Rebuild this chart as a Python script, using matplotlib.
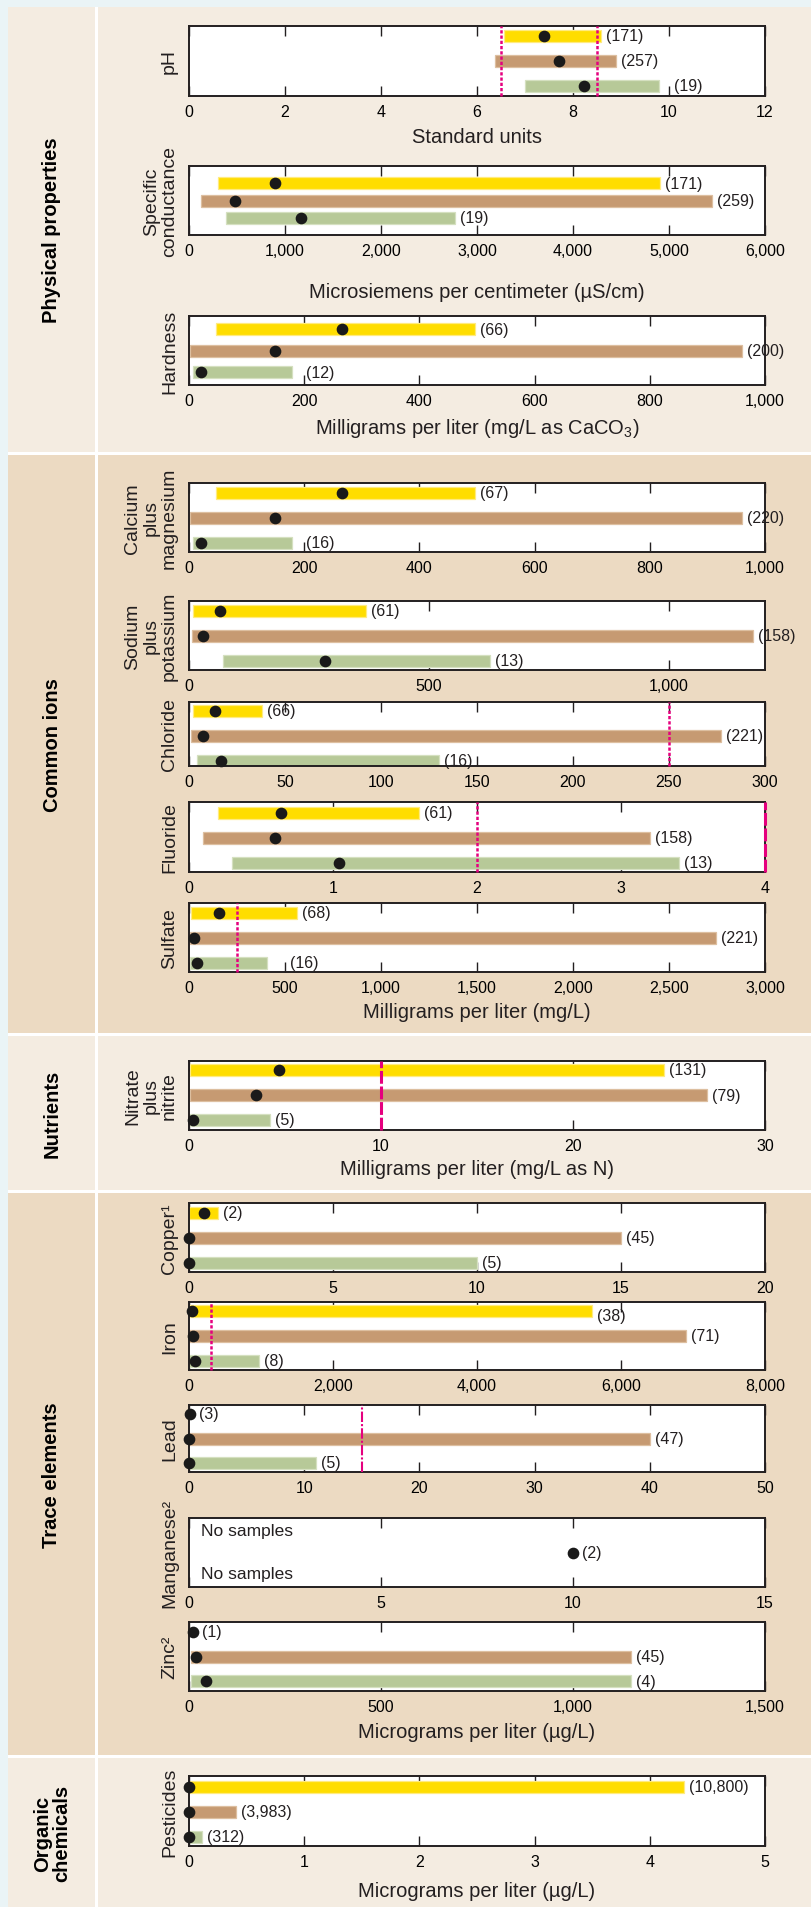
import matplotlib.pyplot as plt
from matplotlib import font_manager as fm
from matplotlib.patches import Rectangle
from matplotlib.ticker import FuncFormatter

# numbers and axis titles are set in a narrow grotesque in the original;
# use Liberation Sans Narrow when present, else regular Liberation Sans
have_narrow = any(f.name == 'Liberation Sans Narrow' for f in fm.fontManager.ttflist)
NUM_FONT = 'Liberation Sans Narrow' if have_narrow else 'Liberation Sans'
NUM_SCALE = 1.2 if have_narrow else 1.0

plt.rcParams['font.family'] = ['Liberation Sans', 'DejaVu Sans']
plt.rcParams['mathtext.fontset'] = 'custom'
plt.rcParams['mathtext.rm'] = NUM_FONT

# each panel has three rows: yellow, tan, green
colors = ['#FFDD00', '#C69A72', '#B7C998']
edges = ['#FFEB80', '#DDBFA0', '#D5E0C0']
pink = '#E5007E'

# ---- data (min, max, median, sample counts) ----
ph_lo = [6.57, 6.38, 7.0]
ph_hi = [8.59, 8.90, 9.80]
ph_med = [7.39, 7.70, 8.23]
ph_n = ['(171)', '(257)', '(19)']

sc_lo = [300, 130, 390]
sc_hi = [4910, 5450, 2770]
sc_med = [900, 475, 1170]
sc_n = ['(171)', '(259)', '(19)']

hard_lo = [47, 2, 7]
hard_hi = [496, 960, 179]
hard_med = [265, 150, 21]
hard_n = ['(66)', '(200)', '(12)']

camg_lo = [47, 2, 7]
camg_hi = [496, 960, 179]
camg_med = [265, 150, 21]
camg_n = ['(67)', '(220)', '(16)']

nak_lo = [9, 7, 70]
nak_hi = [368, 1175, 627]
nak_med = [65, 29, 283]
nak_n = ['(61)', '(158)', '(13)']

cl_lo = [1.9, 1.3, 4.0]
cl_hi = [38, 277, 130]
cl_med = [13.5, 7.3, 16.7]
cl_n = ['(66)', '(221)', '(16)']

f_lo = [0.20, 0.10, 0.30]
f_hi = [1.60, 3.20, 3.40]
f_med = [0.64, 0.60, 1.04]
f_n = ['(61)', '(158)', '(13)']

so4_lo = [8, 5, 5]
so4_hi = [560, 2747, 404]
so4_med = [156, 24, 40]
so4_n = ['(68)', '(221)', '(16)']

no3_lo = [0.05, 0.05, 0.05]
no3_hi = [24.75, 26.96, 4.2]
no3_med = [4.7, 3.47, 0.2]
no3_n = ['(131)', '(79)', '(5)']

cu_lo = [0, 0, 0]
cu_hi = [1.0, 15, 10]
cu_med = [0.52, 0, 0]
cu_n = ['(2)', '(45)', '(5)']

fe_lo = [0, 0, 0]
fe_hi = [5600, 6900, 970]
fe_med = [43, 50, 80]
fe_n = ['(38)', '(71)', '(8)']

pb_lo = [None, 0, 0]
pb_hi = [None, 40, 11]
pb_med = [0.05, 0, 0]
pb_n = ['(3)', '(47)', '(5)']

mn_lo = [None, None, None]
mn_hi = [None, None, None]
mn_med = [None, 10.0, None]
mn_n = ['', '(2)', '']
mn_note = ['No samples', None, 'No samples']

zn_lo = [None, 5, 5]
zn_hi = [None, 1150, 1150]
zn_med = [10, 19, 44]
zn_n = ['(1)', '(45)', '(4)']

pest_lo = [0.01, 0.01, 0.01]
pest_hi = [4.30, 0.41, 0.11]
pest_med = [0, 0, 0]
pest_n = ['(10,800)', '(3,983)', '(312)']

panels = [
    dict(key='ph', ylabel='pH', lo=ph_lo, hi=ph_hi, med=ph_med, n=ph_n,
         xmax=12, ticks=[0, 2, 4, 6, 8, 10, 12], lines=[(6.5, 'fine'), (8.5, 'fine')],
         xlabel='Standard units'),
    dict(key='sc', ylabel='Specific\nconductance', lo=sc_lo, hi=sc_hi, med=sc_med, n=sc_n,
         xmax=6000, ticks=[0, 1000, 2000, 3000, 4000, 5000, 6000], lines=[],
         xlabel='Microsiemens per centimeter (µS/cm)'),
    dict(key='hard', ylabel='Hardness', lo=hard_lo, hi=hard_hi, med=hard_med, n=hard_n,
         xmax=1000, ticks=[0, 200, 400, 600, 800, 1000], lines=[],
         xlabel='Milligrams per liter (mg/L as CaCO$_3$)'),
    dict(key='camg', ylabel='Calcium\nplus\nmagnesium', lo=camg_lo, hi=camg_hi, med=camg_med,
         n=camg_n, xmax=1000, ticks=[0, 200, 400, 600, 800, 1000], lines=[], xlabel=None),
    dict(key='nak', ylabel='Sodium\nplus\npotassium', lo=nak_lo, hi=nak_hi, med=nak_med, n=nak_n,
         xmax=1200, ticks=[0, 500, 1000], lines=[], xlabel=None),
    dict(key='cl', ylabel='Chloride', lo=cl_lo, hi=cl_hi, med=cl_med, n=cl_n,
         xmax=300, ticks=[0, 50, 100, 150, 200, 250, 300], lines=[(250, 'fine')], xlabel=None),
    dict(key='f', ylabel='Fluoride', lo=f_lo, hi=f_hi, med=f_med, n=f_n,
         xmax=4, ticks=[0, 1, 2, 3, 4], lines=[(2, 'fine'), (4, 'long')], xlabel=None),
    dict(key='so4', ylabel='Sulfate', lo=so4_lo, hi=so4_hi, med=so4_med, n=so4_n,
         xmax=3000, ticks=[0, 500, 1000, 1500, 2000, 2500, 3000], lines=[(250, 'fine')],
         xlabel='Milligrams per liter (mg/L)'),
    dict(key='no3', ylabel='Nitrate\nplus\nnitrite', lo=no3_lo, hi=no3_hi, med=no3_med, n=no3_n,
         xmax=30, ticks=[0, 10, 20, 30], lines=[(10, 'long')],
         xlabel='Milligrams per liter (mg/L as N)'),
    dict(key='cu', ylabel='Copper¹', lo=cu_lo, hi=cu_hi, med=cu_med, n=cu_n,
         xmax=20, ticks=[0, 5, 10, 15, 20], lines=[], xlabel=None),
    dict(key='fe', ylabel='Iron', lo=fe_lo, hi=fe_hi, med=fe_med, n=fe_n,
         xmax=8000, ticks=[0, 2000, 4000, 6000, 8000], lines=[(300, 'fine')], xlabel=None),
    dict(key='pb', ylabel='Lead', lo=pb_lo, hi=pb_hi, med=pb_med, n=pb_n,
         xmax=50, ticks=[0, 10, 20, 30, 40, 50], lines=[(15, 'dashdot')], xlabel=None),
    dict(key='mn', ylabel='Manganese²', lo=mn_lo, hi=mn_hi, med=mn_med, n=mn_n,
         xmax=15, ticks=[0, 5, 10, 15], lines=[], xlabel=None, note=mn_note),
    dict(key='zn', ylabel='Zinc²', lo=zn_lo, hi=zn_hi, med=zn_med, n=zn_n,
         xmax=1500, ticks=[0, 500, 1000, 1500], lines=[],
         xlabel='Micrograms per liter (µg/L)'),
    dict(key='pest', ylabel='Pesticides', lo=pest_lo, hi=pest_hi, med=pest_med, n=pest_n,
         xmax=5, ticks=[0, 1, 2, 3, 4, 5], lines=[],
         xlabel='Micrograms per liter (µg/L)'),
]

sections = ['Physical properties', 'Common ions', 'Nutrients', 'Trace elements',
            'Organic\nchemicals']

# ---- layout, in pixels of the 811 x 1908 figure ----
W, H = 811, 1908
AX_L, AX_R = 189, 765
# key: (top, bottom, first row offset, row spacing, xlabel offset)
layout = {
    'ph': (27, 97, 10, 25, 40),
    'sc': (167, 236, 17, 17.5, 56),
    'hard': (317, 386, 13, 21.7, 42),
    'camg': (484, 553, 10, 25, 0),
    'nak': (602, 671, 10, 25, 0),
    'cl': (703, 767, 9, 25, 0),
    'f': (803, 873, 10.5, 25, 0),
    'so4': (904, 973, 10, 25, 40),
    'no3': (1062, 1131, 9, 25, 39),
    'cu': (1204, 1273, 9.5, 25, 0),
    'fe': (1303, 1371, 9.3, 24.7, 0),
    'pb': (1406, 1473, 9, 24.5, 0),
    'mn': (1519, 1588, 13, 21.5, 0),
    'zn': (1623, 1692, 9.7, 24.8, 41),
    'pest': (1777, 1847, 10.5, 25, 45),
}
section_px = [(8, 453), (456, 1034), (1037, 1191), (1194, 1756), (1759, 1908)]
section_bg = ['#F4ECE1', '#ECDAC2', '#F4ECE1', '#ECDAC2', '#F4ECE1']
# gap (px) between bar end and count label; wider where a tick is in the way
label_gap = {('ph', 2): 15, ('hard', 2): 14, ('camg', 2): 14, ('so4', 2): 23}
label_drop = {('fe', 0): 4}
line_styles = {'fine': ((0, (1.3, 0.8)), 1.8),
               'long': ((0, (4.2, 0.9)), 2.2),
               'dashdot': ((0, (5, 1, 1, 1)), 1.5)}
BAR_PX = 12

fmt = FuncFormatter(lambda v, p: f'{v:,.0f}')

fig = plt.figure(figsize=(W / 100, H / 100), dpi=100, facecolor='#EAF4F6')

# white frame behind the section panels (gives the white dividers)
fig.patches.append(Rectangle((8 / W, 0), (W - 8) / W, 1 - 8 / H, transform=fig.transFigure,
                             fc='white', ec='none', zorder=-3))
for (top, bot), bg, name in zip(section_px, section_bg, sections):
    fig.patches.append(Rectangle((8 / W, 1 - bot / H), 87 / W, (bot - top) / H,
                                 transform=fig.transFigure, fc=bg, ec='none', zorder=-2))
    fig.patches.append(Rectangle((98 / W, 1 - bot / H), (W - 98) / W, (bot - top) / H,
                                 transform=fig.transFigure, fc=bg, ec='none', zorder=-2))
    fig.text(52 / W, 1 - (top + bot) / 2 / H, name, rotation=90, ha='center', va='center',
             fontweight='bold', fontsize=14.5, linespacing=1.0)

for p in panels:
    top, bot, off, sp, xl_off = layout[p['key']]
    hpx = bot - top
    ax = fig.add_axes([AX_L / W, 1 - bot / H, (AX_R - AX_L) / W, hpx / H])
    ax.set_facecolor('white')
    ax.set_xlim(0, p['xmax'])
    ax.set_ylim((hpx - off) / sp, -off / sp)
    ax.set_xticks(p['ticks'])
    ax.xaxis.set_major_formatter(fmt)
    ax.set_yticks([])
    ax.tick_params(axis='x', direction='in', top=True, bottom=True, length=7,
                   width=1.0, color='#231F20', labelsize=11.5 * NUM_SCALE, pad=6)
    for lab in ax.get_xticklabels():
        lab.set_family(NUM_FONT)
    for s in ax.spines.values():
        s.set_linewidth(1.4)
        s.set_color('#231F20')

    for i in range(3):
        lo, hi, med = p['lo'][i], p['hi'][i], p['med'][i]
        if lo is not None:
            ax.barh(i, hi - lo, left=lo, height=BAR_PX / sp, color=colors[i],
                    edgecolor=edges[i], linewidth=0.9, zorder=2)
        if med is not None:
            ax.plot(med, i, marker='o', markersize=7.4, color='#1A1A1A', ls='none',
                    zorder=5, clip_on=False)
        anchor = hi if hi is not None else med
        if anchor is not None and p['n'][i]:
            gap = label_gap.get((p['key'], i), 5 if hi is not None else 9)
            drop = label_drop.get((p['key'], i), 0)
            ax.annotate(p['n'][i], (anchor, i), xytext=(gap * 0.72, -drop * 0.72),
                        textcoords='offset points', ha='left', va='center',
                        family=NUM_FONT, fontsize=11.5 * NUM_SCALE, color='#231F20',
                        annotation_clip=False)
        if 'note' in p and p['note'][i]:
            ax.text(0.3, i, p['note'][i], ha='left', va='center', family=NUM_FONT,
                    fontsize=12.5 * NUM_SCALE, color='#231F20')

    for x, style in p['lines']:
        ls, lw = line_styles[style]
        ax.axvline(x, color=pink, ls=ls, lw=lw, zorder=4, clip_on=False)

    ax.set_ylabel(p['ylabel'], fontsize=14, linespacing=1.1, color='#231F20')
    ax.yaxis.set_label_coords(-11 / (AX_R - AX_L), 0.5)
    if p['xlabel']:
        ax.set_xlabel(p['xlabel'], family=NUM_FONT, fontsize=14.5 * NUM_SCALE, va='center',
                      color='#231F20')
        ax.xaxis.set_label_coords(0.5, -xl_off / hpx)

fig.savefig('out.png', dpi=100, facecolor=fig.get_facecolor())
